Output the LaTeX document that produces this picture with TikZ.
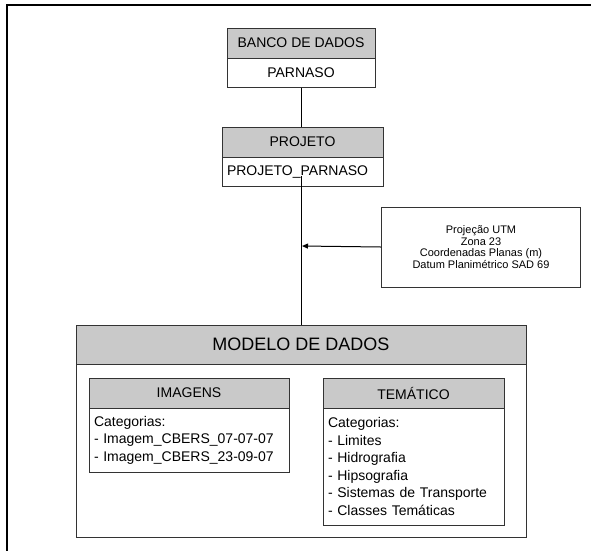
\documentclass[tikz,border=0pt]{standalone}
\usepackage{fontspec}
\setmainfont{Liberation Sans}
\usetikzlibrary{arrows.meta}
\tikzset{
  hdr/.style={draw=black!80, line width=1pt, fill=black!21, rectangle, inner sep=0pt, text=black},
  bodybox/.style={draw=black!80, line width=1pt, fill=white, rectangle, inner sep=0pt, text=black},
  link/.style={draw=black, line width=1pt},
}
\begin{document}
\begin{tikzpicture}[x=1pt,y=-1pt]
\useasboundingbox (0,0) rectangle (591,550);
% outer frame (cropped)
\draw[line width=2pt] (6.5,551) -- (6.5,5) -- (592,5);

% BANCO DE DADOS
\node[hdr, minimum width=148pt, minimum height=30pt, font=\fontsize{14}{16}\selectfont] (bancoH) at (301,43) {BANCO DE DADOS};
\node[bodybox, minimum width=148pt, minimum height=29pt, font=\fontsize{14}{16}\selectfont] (bancoB) at (301,72.5) {PARNASO};

% PROJETO
\node[hdr, minimum width=161pt, minimum height=30pt, font=\fontsize{14}{16}\selectfont] (projH) at (302.5,142) {PROJETO};
\node[bodybox, minimum width=161pt, minimum height=29pt, text width=151pt, align=left, inner xsep=5pt, font=\fontsize{14}{16}\selectfont] (projB) at (302.5,171.5) {PROJETO\_PARNASO};

% info box
\node[bodybox, minimum width=199pt, minimum height=80pt, align=center, font=\fontsize{11}{11.8}\selectfont] (info) at (481,247)
  {Projeção UTM\\Zona 23\\Coordenadas Planas (m)\\Datum Planimétrico SAD 69};

% MODELO DE DADOS
\node[hdr, minimum width=450pt, minimum height=39pt, font=\fontsize{18}{20}\selectfont] (modH) at (301,344.5) {MODELO DE DADOS};
\node[bodybox, minimum width=450pt, minimum height=173pt] (modB) at (301,450.5) {};

% IMAGENS
\node[hdr, minimum width=200pt, minimum height=30pt, font=\fontsize{14}{16}\selectfont] (imgH) at (189,393) {IMAGENS};
\node[bodybox, minimum width=200pt, minimum height=64pt, text width=190pt, inner xsep=5pt, align=left, font=\fontsize{14}{17.6}\selectfont] (imgB) at (189,440)
  {Categorias:\\- Imagem\_CBERS\_07-07-07\\- Imagem\_CBERS\_23-09-07};

% TEMATICO
\node[hdr, minimum width=181pt, minimum height=30pt, font=\fontsize{14}{16}\selectfont] (temH) at (413.5,393) {TEMÁTICO};
\node[bodybox, minimum width=181pt, minimum height=117pt, text width=171pt, inner xsep=5pt, align=left, font=\fontsize{14}{17.6}\selectfont] (temB) at (413.5,466.5)
  {Categorias:\\- Limites\\- Hidrografia\\- Hipsografia\\- Sistemas de Transporte\\- Classes Temáticas};

% connectors
\coordinate (jA) at (301,176);
\coordinate (jArr) at (302,246);
\draw[link] (bancoB.south) -- (projH.north -| bancoB.south);
\draw[link] (jA) -- (jA |- modH.north);
\draw[link, -{Triangle[length=6pt,width=5pt]}] (info.west) -- (jArr);
\end{tikzpicture}
\end{document}
